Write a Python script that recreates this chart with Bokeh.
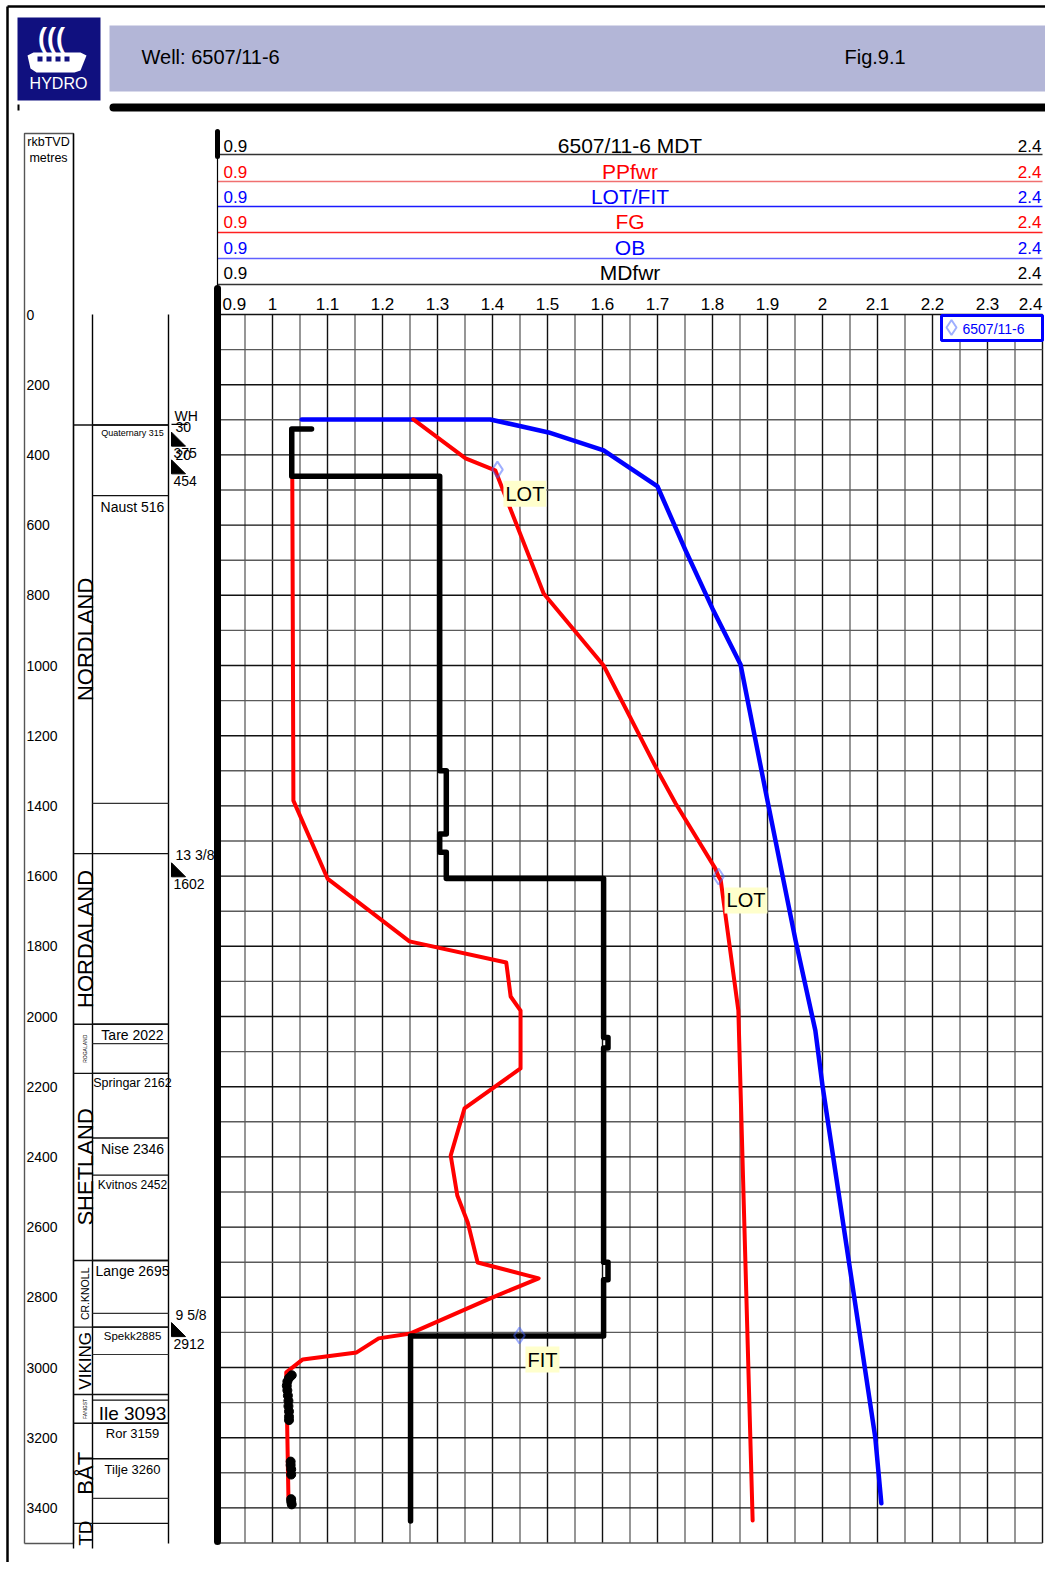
import math
from bokeh.plotting import figure
from bokeh.models import Range1d, Label
from bokeh.core.properties import value
from bokeh.embed import file_html
from bokeh.resources import INLINE

# ---------------- data ----------------
ob_depth = [299, 299, 336, 387, 490, 672, 838, 997, 1370, 1783, 2040, 2197, 2709, 3200, 3387]
ob_sg = [1.053, 1.396, 1.502, 1.602, 1.700, 1.751, 1.800, 1.851, 1.898, 1.951, 1.987, 2.000, 2.049, 2.096, 2.107]

fg_depth = [299, 410, 444, 795, 1000, 1299, 1393, 1578, 1601, 1612, 1983, 3436]
fg_sg = [1.256, 1.351, 1.405, 1.493, 1.602, 1.700, 1.733, 1.805, 1.811, 1.815, 1.847, 1.873]

pp_depth = [467, 1385, 1607, 1786, 1846, 1943, 1983, 2148, 2262, 2396, 2510, 2587, 2701, 2746,
            2803, 2903, 2917, 2957, 2977, 3014, 3373]
pp_sg = [1.036, 1.038, 1.100, 1.249, 1.425, 1.433, 1.451, 1.451, 1.349, 1.324, 1.336, 1.355, 1.373,
         1.484, 1.396, 1.251, 1.193, 1.153, 1.055, 1.025, 1.029]

md_depth = [326, 326, 461, 461, 1300, 1300, 1480, 1480, 1532, 1532, 1607, 1607, 2060, 2060, 2090,
            2090, 2700, 2700, 2750, 2750, 2910, 2910, 3437]
md_sg = [1.071, 1.035, 1.035, 1.304, 1.304, 1.316, 1.316, 1.304, 1.304, 1.316, 1.316, 1.602, 1.602,
         1.610, 1.610, 1.602, 1.602, 1.610, 1.610, 1.602, 1.602, 1.251, 1.251]

mdt_depth = [3022, 3030, 3040, 3052, 3065, 3080, 3095, 3110, 3125, 3140, 3150,
             3268, 3278, 3290, 3305, 3375, 3382, 3390]
mdt_sg = [1.035, 1.030, 1.027, 1.026, 1.027, 1.028, 1.029, 1.029, 1.030, 1.030, 1.030,
          1.033, 1.033, 1.034, 1.034, 1.034, 1.034, 1.035]

lot_depth = [442, 1601, 2909]
lot_sg = [1.409, 1.811, 1.449]
lot_type = ["LOT", "LOT", "FIT"]

track_titles = ["6507/11-6 MDT", "PPfwr", "LOT/FIT", "FG", "OB", "MDfwr"]
track_colors = ["black", "#ff0000", "#0000ff", "#ff0000", "#0000ff", "black"]
track_line_colors = ["#333333", "#f07070", "#1a1aff", "#ff2020", "#6060ff", "#333333"]
sg_min, sg_max = 0.9, 2.4
top_tick_labels = ["0.9", "1", "1.1", "1.2", "1.3", "1.4", "1.5", "1.6", "1.7", "1.8", "1.9",
                   "2", "2.1", "2.2", "2.3", "2.4"]
depth_tick_labels = ["0", "200", "400", "600", "800", "1000", "1200", "1400", "1600", "1800",
                     "2000", "2200", "2400", "2600", "2800", "3000", "3200", "3400"]
depth_max = 3500

groups = ["NORDLAND", "HORDALAND", "ROGALAND", "SHETLAND", "CR.KNOLL", "VIKING", "FANGST", "BÅT", "TD"]
group_tops = [315, 1536, 2022, 2162, 2695, 2885, 3077, 3159, 3444]
formation_labels = ["Quaternary 315", "Naust 516", "Tare 2022", "Springar 2162", "Nise 2346",
                    "Kvitnos 2452", "Lange 2695", "Spekk2885", "Ile 3093", "Ror 3159", "Tilje 3260"]
formation_tops = [315, 516, 2022, 2162, 2346, 2452, 2695, 2885, 3093, 3159, 3260]
unlabelled_tops = [1393, 2077, 2846, 2963, 3373]

casing_size = ["30", "20", "13 3/8", "9 5/8"]
casing_shoe = [375, 454, 1602, 2912]
wellhead_depth = 313

# ---------------- styles ----------------
SANS = "Liberation Sans"
group_font_px = [22, 22, 5, 22, 10.5, 17, 5, 22, 19]
formation_font_px = [9, 14, 14, 12.5, 14, 12, 14, 11.5, 19, 13, 13]

# page pixel -> data helpers (only for the decoration around the track)
PX_V0 = 217.0
PX_PER_SG = 550.0
PY_D0 = 314.0
PY_PER_M = 0.351


def X(px):
    return sg_min + (px - PX_V0) / PX_PER_SG


def Y(py):
    return (py - PY_D0) / PY_PER_M


W, H = 1045, 1562
p = figure(width=W, height=H, x_range=Range1d(X(0), X(W)), y_range=Range1d(Y(H), Y(0)),
           output_backend="svg", toolbar_location=None, min_border=0,
           x_axis_type=None, y_axis_type=None)
p.outline_line_color = None
p.background_fill_color = "white"
p.border_fill_color = "white"


def seg(x0, y0, x1, y1, color="black", width=1.0, cap="butt"):
    p.segment(x0=x0, y0=y0, x1=x1, y1=y1, line_color=color, line_width=width, line_cap=cap)


def txt(xs, ys, texts, size, color="black", align="left", baseline="middle", font=SANS,
        angle=0.0, style="normal"):
    p.text(x=xs, y=ys, text=texts, text_font=value(font), text_font_size=f"{size}px",
           text_color=color, text_align=align, text_baseline=baseline, angle=angle,
           text_font_style=style)


# ---------------- page frame & header ----------------
seg([X(7)], [Y(6)], [X(1060)], [Y(6)], width=2.5)
seg([X(7)], [Y(6)], [X(7)], [Y(1580)], width=2.5)
seg([X(18)], [Y(104)], [X(18)], [Y(110)], width=2)

# logo
p.quad(left=[X(17)], right=[X(100)], top=[Y(17)], bottom=[Y(100)], fill_color="#10107f", line_color=None)
txt([X(51)], [Y(37)], ["((("], 27, color="white", align="center", style="bold")
p.patch(x=[X(27), X(33), X(80), X(86), X(80), X(74), X(36), X(30)],
        y=[Y(55), Y(52), Y(52), Y(55), Y(70), Y(72), Y(72), Y(68)], fill_color="white", line_color=None)
p.quad(left=[X(37), X(46), X(55), X(64)], right=[X(42), X(51), X(60), X(69)],
       top=[Y(56)] * 4, bottom=[Y(61)] * 4, fill_color="#10107f", line_color=None)
txt([X(58)], [Y(83)], ["HYDRO"], 16, color="white", align="center")

# title band
p.quad(left=[X(109)], right=[X(1060)], top=[Y(25)], bottom=[Y(91)], fill_color="#b3b6d7", line_color=None)
txt([X(141)], [Y(56)], ["Well: 6507/11-6"], 20)
txt([X(844)], [Y(56)], ["Fig.9.1"], 20)
seg([X(113)], [Y(107)], [X(1060)], [Y(107)], width=8, cap="round")

# ---------------- track headers ----------------
row_mid = [145, 171, 196, 221, 247, 272]
row_line = [154, 181, 206, 232, 258, 284]
for title, col, lcol, ym, yl in zip(track_titles, track_colors, track_line_colors, row_mid, row_line):
    txt([X(223)], [Y(ym)], [f"{sg_min:g}"], 17, color=col)
    txt([sg_max - 0.002], [Y(ym)], [f"{sg_max:g}"], 17, color=col, align="right")
    txt([(sg_min + sg_max) / 2], [Y(ym)], [title], 21, color=col, align="center")
    seg([sg_min], [Y(yl)], [sg_max], [Y(yl)], color=lcol, width=1.6)

seg([sg_min], [Y(131)], [sg_min], [Y(156)], width=5, cap="round")
seg([sg_min], [Y(156)], [sg_min], [Y(286)], width=1.2)

# top scale labels
tick_vals = [float(t) for t in top_tick_labels]
txt([X(222)], [Y(303)], [top_tick_labels[0]], 17)
txt(tick_vals[1:-1], [Y(303)] * (len(tick_vals) - 2), top_tick_labels[1:-1], 17, align="center")
txt([sg_max], [Y(303)], [top_tick_labels[-1]], 17, align="right")

# ---------------- grid ----------------
n_v = int(round((sg_max - sg_min) / 0.05))
vx = [sg_min + 0.05 * i for i in range(n_v + 1)]
vcol = ["#111111" if i % 2 == 0 else "#6a6a6a" for i in range(n_v + 1)]
p.segment(x0=vx, y0=[0] * len(vx), x1=vx, y1=[depth_max] * len(vx), line_color=vcol, line_width=1.4)
hy = list(range(0, depth_max + 1, 100))
hcol = ["#111111" if d % 200 == 0 else "#5a5a5a" for d in hy]
p.segment(x0=[sg_min] * len(hy), y0=hy, x1=[sg_max] * len(hy), y1=hy, line_color=hcol, line_width=1.4)

# left thick axis bar
seg([sg_min], [Y(288)], [sg_min], [Y(1541)], width=7, cap="round")

# ---------------- depth column ----------------
p.multi_line(xs=[[X(24), X(24), X(73), X(73), X(24)]], ys=[[Y(1543), Y(133), Y(133), Y(1543), Y(1543)]],
             line_color="#555555", line_width=1.4)
seg([X(73)], [Y(133)], [X(73)], [Y(1548)], width=1.4)
txt([X(48)], [Y(141)], ["rkbTVD"], 12.5, align="center")
txt([X(48)], [Y(157)], ["metres"], 12.5, align="center")
dvals = [float(s) for s in depth_tick_labels]
txt([X(26)] * len(dvals), dvals, depth_tick_labels, 14)

# ---------------- stratigraphy ----------------
seg([X(92), X(168)], [0, 0], [X(92), X(168)], [Y(1548), Y(1543)], width=1.4)
p.segment(x0=[X(73)] * len(group_tops), y0=group_tops, x1=[X(168)] * len(group_tops), y1=group_tops,
          line_color="#111111", line_width=1.4)
p.segment(x0=[X(92)] * len(formation_tops), y0=formation_tops, x1=[X(168)] * len(formation_tops),
          y1=formation_tops, line_color="#111111", line_width=1.4)
p.segment(x0=[X(92)] * len(unlabelled_tops), y0=unlabelled_tops, x1=[X(168)] * len(unlabelled_tops),
          y1=unlabelled_tops, line_color="#333333", line_width=1.2)

group_bottoms = group_tops[1:] + [depth_max]
for name, t, b, fs in zip(groups, group_tops, group_bottoms, group_font_px):
    txt([X(84.5)], [(t + b) / 2], [name], fs, align="center", angle=math.pi / 2)

for lab, t, fs in zip(formation_labels, formation_tops, formation_font_px):
    p.text(x=[X(132)], y=[t], text=[lab], text_font=value(SANS), text_font_size=f"{fs}px",
           text_align="center", text_baseline="top", y_offset=3, text_color="black")

# casing shoes
tri_h = 14 / PY_PER_M
seg([X(171)], [wellhead_depth], [X(187)], [wellhead_depth], width=1.2)
txt([X(174)], [wellhead_depth], ["WH"], 14, baseline="bottom")
for size, shoe in zip(casing_size, casing_shoe):
    p.patch(x=[X(171), X(171), X(185)], y=[shoe - tri_h, shoe, shoe], fill_color="black", line_color="black")
    txt([X(175)], [shoe - tri_h], [size], 14, baseline="bottom")
    p.text(x=[X(173)], y=[shoe], text=[f"{shoe}"], text_font=value(SANS), text_font_size="14px",
           text_baseline="top", y_offset=2, text_color="black")

# ---------------- curves ----------------
p.line(ob_sg, ob_depth, line_color="#0000ff", line_width=4.5, line_join="round", line_cap="round")
p.line(fg_sg, fg_depth, line_color="#ff0000", line_width=4, line_join="round", line_cap="round")
p.line(pp_sg, pp_depth, line_color="#ff0000", line_width=4, line_join="round", line_cap="round")
p.line(md_sg, md_depth, line_color="black", line_width=5.5, line_join="round", line_cap="round")
p.scatter(mdt_sg, mdt_depth, marker="circle", size=9, fill_color="black", line_color="black")

p.scatter(lot_sg, lot_depth, marker="diamond", size=16, fill_alpha=0, line_color="#4060ff",
          line_alpha=0.5, line_width=2)
for v, d, t in zip(lot_sg, lot_depth, lot_type):
    p.add_layout(Label(x=v, y=d, text=t, x_offset=6, y_offset=-11, text_baseline="top",
                       text_font=SANS, text_font_size="20px", text_color="black",
                       background_fill_color="#ffffcc", padding=2))

# legend box
p.quad(left=[X(941)], right=[X(1042)], top=[Y(315)], bottom=[Y(340)], fill_color="white",
       line_color="#0000ff", line_width=3)
p.scatter([X(951)], [Y(327)], marker="diamond", size=15, fill_alpha=0, line_color="#4060ff",
          line_alpha=0.5, line_width=2)
txt([X(962)], [Y(328)], ["6507/11-6"], 14, color="#0000ff")

open("out.html", "w").write(file_html(p, INLINE))
